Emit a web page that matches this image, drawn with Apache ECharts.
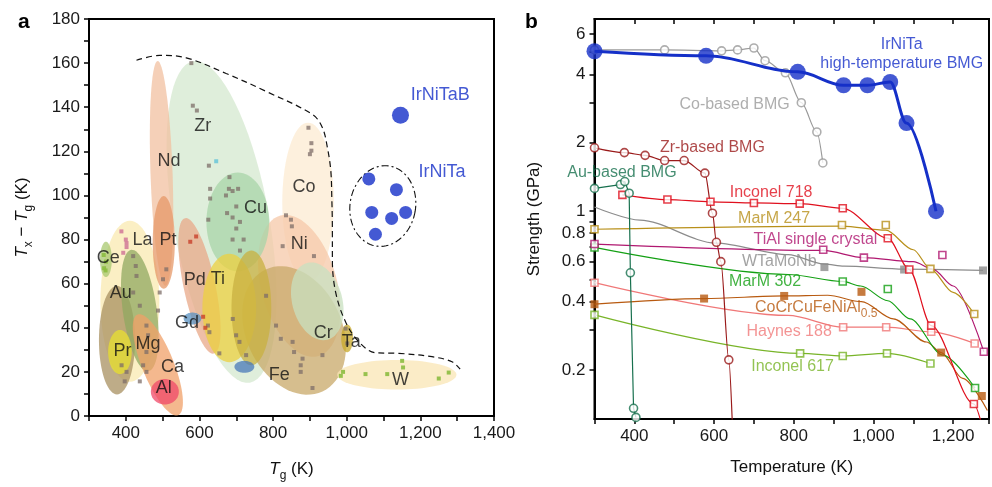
<!DOCTYPE html>
<html>
<head>
<meta charset="utf-8">
<script src="https://cdn.jsdelivr.net/npm/echarts@6/dist/echarts.min.js"></script>
<style>
  html, body { margin: 0; padding: 0; background: #fff; }
  #main { width: 992px; height: 487px; }
</style>
</head>
<body>
<div id="main"></div>
<script>
// ---------- panel a : Tx - Tg versus Tg ----------
// alloy families drawn as ellipses: [family, Tg centre, dT centre, half width (K), half height (K), tilt deg]
const groups = [
  ['Zr', 660, 88, 130, 74, -10],
  ['Nd', 497, 110, 30, 51, -2],
  ['Co', 895, 97, 70, 36, 0],
  ['La', 411, 52, 80, 36.5, 0],
  ['Ni', 871, 59, 103, 33, -15],
  ['Cu', 704, 88, 85, 22.4, 0],
  ['Pt', 503, 78.7, 30, 21, 0],
  ['Pd', 600, 59, 43, 31.4, -12],
  ['Fe', 857, 38.8, 130, 30.5, -25],
  ['Cr', 920, 52, 68, 18, -15],
  ['Ti', 681, 49, 73, 24.6, 0],
  ['Ti2', 741, 49, 54, 26, 0],
  ['Au', 376, 34.4, 49, 24.6, 0],
  ['Mg', 438, 47.8, 46, 27.8, -8],
  ['Ca', 487, 23.2, 43, 24.6, -22],
  ['Pr', 384, 29, 32, 10, 0],
  ['Al', 506, 11, 38, 5.8, 0],
  ['Ce', 346, 71, 16, 8, 0],
  ['Gd', 581, 44.2, 24, 2.7, 0],
  ['Ta', 1001, 35.2, 16, 6.3, 0],
  ['W', 1136, 18.7, 162, 6.7, 0],
  ['CuB', 722, 22.3, 27, 2.7, 0]
];
const groupColors = {
  Zr: '#d4e8cf', Nd: '#f2c0a0', Co: '#fcebd2', La: '#f9eab0', Ni: '#f5c8a8',
  Cu: '#a8d4a8', Pt: '#e59868', Pd: '#e8a888', Fe: '#c8a868', Cr: '#c8e0c0',
  Ti: '#ecd040', Ti2: '#c8b040', Au: '#a89060', Mg: '#90a860', Ca: '#f0a068',
  Pr: '#e8e030', Al: '#f04868', Ce: '#a8c870', Gd: '#5890c0', Ta: '#c8a828',
  W: '#f9e6b4', CuB: '#4878b8'
};

// individual glasses (small squares)
const glassGrey = [
  [578,160],[582,140.7],[593,138.5],[625.6,113.5],[629,103],[629,98.6],[624,89],
  [681.5,108.3],[672,100],[680,103],[690,102],[705,103],[700,95],[675,92],[690,90],[710,88],[700,85],[720,80],[690,80],[710,75],
  [896,130.7],[904,123.7],[904,120.3],[900,118.7],
  [835,91],[848.5,89],[851,86],[826,77],[911,72.5],
  [420,72.5],[427,68],[429,63.5],[420,56],[438,50],[456,41],[460.5,36.6],[456,29],[447,23],[456,20],[438,15.7],
  [388.5,23],[402,20],[397,15.7],
  [492,56],[501,62],[510,66.5],[487.5,47.8],
  [623,41],[627,38],[654,28.4],
  [690.5,44],[699.6,36.6],[726.7,27.6],[708.6,33.6],
  [781,54.5],[808,41],[821,35],[853,33.6],[857,29],[880,26],[875,23],[875,20],[907,12.7],[934,27.6],
  [997,39.6],[1001.5,32.9]
];
const glassRed = [[575,79],[591,81.4],[610,45],[616,40]];
const glassPink = [[388,83.7],[400,80],[402,76.6],[393,74],[402,78.4]];
const glassGreen = [[340,73],[346,70],[341,67],[345,66],[1150.5,25],[1153,22],[1051,19],[1110,19],[1250,17],[1277,19.7],[984,18.2],[990,20]];
const glassCyan = [[645.5,115.5]];

// IrNiTa and IrNiTaB
const irnitaTg = [1060, 1135, 1068, 1122, 1160, 1078];
const irnitaDT = [107.5, 102.6, 92.3, 89.6, 92.3, 82.4];
const irnitaBTg = [1146];
const irnitaBDT = [136.4];
const irnitaRing = [[1098, 95.2, 89, 18.4, 10]];

// dashed boundary of conventional BMGs
const boundTg = [429, 492, 564, 672.6, 780.8, 907, 934, 947.5, 956.7, 959.4, 961, 961, 970, 997, 1033, 1078, 1141.5, 1231.5, 1285.7, 1308];
const boundDT = [161.3, 163.5, 162.4, 155.3, 147.2, 136.7, 130.7, 121.7, 111.3, 99.3, 84.4, 71, 56, 42.6, 33.6, 28.7, 28.4, 26.9, 24.6, 21.2];

const elemNames = ['Zr','Nd','Co','Cu','Ni','La','Pt','Ce','Au','Pd','Ti','Gd','Cr','Ta','Mg','Pr','Ca','Al','Fe','W'];
const elemTg = [609, 517, 884, 752, 871, 445, 514.5, 352, 386, 587, 650, 566, 936, 1012, 460.5, 391, 526.5, 503, 816.8, 1146];
const elemDT = [131.5, 115.8, 103.8, 94.5, 78, 80, 80, 71.4, 55.6, 61.7, 62.3, 42.1, 37.8, 33.6, 32.6, 29.4, 22.4, 12.7, 18.4, 16.4];

// ---------- panel b : strength versus temperature ----------
const irT = [300, 580, 810, 925, 985, 1042, 1083, 1157];
const irS = [5.05, 4.82, 4.10, 3.58, 3.58, 3.70, 2.44, 1.0];
const coT = [300, 476, 619, 659, 700, 728, 779, 819, 858, 873];
const coS = [5.12, 5.12, 5.07, 5.12, 5.22, 4.59, 4.06, 3.0, 2.23, 1.63];
const zrT = [300, 375, 427, 476, 525, 577, 596, 606, 617, 637];
const zrS = [1.9, 1.81, 1.76, 1.67, 1.67, 1.47, 0.98, 0.73, 0.6, 0.222];
const zrFitT = [300, 375, 427, 476, 525, 577, 596, 606, 617, 637, 646];
const zrFitS = [1.9, 1.81, 1.76, 1.67, 1.67, 1.47, 0.98, 0.73, 0.6, 0.222, 0.115];
const auT = [300, 365, 376, 387, 390, 398, 404];
const auS = [1.26, 1.31, 1.35, 1.2, 0.536, 0.136, 0.124];
const in718T = [370, 483, 591, 700, 815, 923, 1036, 1090, 1145, 1252];
const in718S = [1.18, 1.125, 1.10, 1.087, 1.08, 1.03, 0.761, 0.554, 0.314, 0.142];
const in718FitT = [370, 483, 591, 700, 815, 923, 1036, 1090, 1145, 1252, 1272];
const in718FitS = [1.18, 1.125, 1.10, 1.087, 1.08, 1.03, 0.761, 0.554, 0.314, 0.142, 0.115];
const m247T = [300, 921, 1031, 1143, 1253];
const m247S = [0.833, 0.869, 0.869, 0.558, 0.353];
const m247FitT = [300, 921, 1031, 1100, 1143, 1200, 1253];
const m247FitS = [0.833, 0.86, 0.825, 0.677, 0.558, 0.44, 0.353];
const tialT = [300, 874, 976, 1173, 1277];
const tialS = [0.717, 0.677, 0.625, 0.642, 0.241];
const tialFitT = [300, 874, 976, 1100, 1150, 1200, 1277];
const tialFitS = [0.717, 0.672, 0.625, 0.60, 0.555, 0.469, 0.241];
const wtT = [877, 1077, 1275];
const wtS = [0.568, 0.554, 0.549];
const wtFitT = [300, 414, 604, 786, 877, 926, 1077, 1275];
const wtFitS = [1.044, 0.914, 0.724, 0.644, 0.585, 0.573, 0.556, 0.549];
const m302T = [300, 923, 1036, 1255];
const m302S = [0.693, 0.491, 0.455, 0.167];
const m302FitT = [300, 786, 923, 968, 1036, 1092, 1174, 1255];
const m302FitS = [0.693, 0.527, 0.491, 0.469, 0.404, 0.336, 0.233, 0.167];
const heaT = [300, 575, 776, 970, 1170, 1272];
const heaS = [0.39, 0.413, 0.424, 0.442, 0.239, 0.154];
const heaFitT = [300, 575, 776, 885, 970, 1050, 1133, 1170, 1224, 1286];
const heaFitS = [0.39, 0.413, 0.424, 0.427, 0.40, 0.336, 0.266, 0.239, 0.184, 0.133];
const hayT = [300, 924, 1032, 1145, 1254];
const hayS = [0.485, 0.309, 0.309, 0.295, 0.262];
const hayFitT = [300, 786, 924, 1032, 1145, 1254];
const hayFitS = [0.485, 0.348, 0.309, 0.309, 0.295, 0.262];
const in617T = [300, 816, 923, 1034, 1143];
const in617S = [0.35, 0.237, 0.231, 0.237, 0.214];

const bLabelText = ['Co-based BMG', 'Zr-based BMG', 'Au-based BMG', 'Inconel 718', 'MarM 247', 'TiAl single crystal', 'WTaMoNb', 'MarM 302', 'Haynes 188', 'Inconel 617'];
const bLabelT = [651.5, 595.8, 368.8, 743.2, 750.7, 854.5, 763.6, 728.2, 788.4, 797];
const bLabelS = [2.94, 1.90, 1.48, 1.213, 0.93, 0.754, 0.602, 0.488, 0.297, 0.207];

const strengthLabels = [0.2, 0.4, 0.6, 0.8, 1, 2, 4, 6];
const strengthTicks = [0.2, 0.3, 0.4, 0.5, 0.6, 0.7, 0.8, 0.9, 1, 2, 3, 4, 5, 6];

// ---------- styling ----------
const FONT = '"Liberation Sans", Arial, Helvetica, sans-serif';
const BLUE = '#1530c8';
const colors = {
  co: '#9a9a9a', zr: '#9a1a1a', au: '#17704e', in718: '#e0101e', m247: '#b8901a',
  tial: '#b01870', wt: '#8c8c8c', m302: '#14a014', hea: '#b85a10', hay: '#f07878', in617: '#78b428'
};
const bLabelColors = [colors.co, colors.zr, colors.au, colors.in718, colors.m247, colors.tial, colors.wt, colors.m302, colors.hay, colors.in617];

const zip = (a, b) => a.map((v, i) => [v, b[i]]);
const thousands = v => String(v).replace(/\B(?=(\d{3})+(?!\d))/g, ',');

function ellipsePoints(api, n) {
  const c = api.coord([api.value(0), api.value(1)]);
  const s = api.size([api.value(2), api.value(3)]);
  const t = api.value(4) * Math.PI / 180;
  const pts = [];
  for (let i = 0; i < n; i++) {
    const a = i / n * Math.PI * 2;
    const ex = s[0] * Math.cos(a), ey = s[1] * Math.sin(a);
    pts.push([c[0] + ex * Math.cos(t) - ey * Math.sin(t), c[1] + ex * Math.sin(t) + ey * Math.cos(t)]);
  }
  return pts;
}

function smallSquares(data, color, opacity) {
  return {
    type: 'scatter', xAxisIndex: 0, yAxisIndex: 0, data: data,
    symbol: 'rect', symbolSize: 4, z: 3, silent: true,
    itemStyle: { color: color, opacity: opacity }
  };
}

// panel b curve + markers
function fitLine(T, S, color, width, smooth) {
  return {
    type: 'line', xAxisIndex: 1, yAxisIndex: 1, data: zip(T, S),
    showSymbol: false, symbol: 'none', smooth: smooth, smoothMonotone: 'x', z: 4,
    lineStyle: { color: color, width: width }
  };
}
function markers(T, S, color, symbol, filled, size) {
  return {
    type: 'scatter', xAxisIndex: 1, yAxisIndex: 1, data: zip(T, S),
    symbol: symbol, symbolSize: size, z: 6,
    itemStyle: filled ? { color: color } : { color: '#fff', borderColor: color, borderWidth: 1.6 }
  };
}

const rich = {
  i: { fontStyle: 'italic', fontSize: 17, fontFamily: FONT, color: '#111', lineHeight: 26 },
  n: { fontSize: 17, fontFamily: FONT, color: '#111', lineHeight: 26 },
  s: { fontSize: 12, fontFamily: FONT, color: '#111', lineHeight: 12, verticalAlign: 'bottom' }
};

const chart = echarts.init(document.getElementById('main'));

const option = {
  animation: false,
  backgroundColor: '#fff',
  textStyle: { fontFamily: FONT },
  grid: [
    { left: 89, top: 19, width: 405, height: 402.7, show: true, borderColor: '#000', borderWidth: 2 },
    { left: 594.5, top: 19, width: 399.5, height: 400, show: true, borderColor: '#000', borderWidth: 2 }
  ],
  xAxis: [
    {
      type: 'value', gridIndex: 0, min: 300, max: 1400, interval: 100,
      axisLine: { onZero: false, lineStyle: { color: '#000', width: 2 } },
      axisTick: { length: 5, lineStyle: { color: '#000', width: 1.5 } },
      axisLabel: { fontSize: 17, color: '#1a1a1a', margin: 9,
        formatter: v => (v % 200 === 0 && v >= 400) ? thousands(v) : '' },
      splitLine: { show: false },
      name: '{i|T}{s|g}{n| (K)}', nameLocation: 'middle', nameGap: 40,
      nameTextStyle: { rich: rich }
    },
    {
      type: 'value', gridIndex: 1, position: 'bottom', min: 300, max: 1290, interval: 100,
      axisLine: { onZero: false, lineStyle: { color: '#000', width: 2 } },
      axisTick: { length: 5, lineStyle: { color: '#000', width: 1.5 } },
      axisLabel: { fontSize: 17, color: '#1a1a1a', margin: 9,
        formatter: v => (v % 200 === 0 && v >= 400) ? thousands(v) : '' },
      splitLine: { show: false },
      name: 'Temperature (K)', nameLocation: 'middle', nameGap: 40,
      nameTextStyle: { fontSize: 17, color: '#111' }
    },
    {
      type: 'value', gridIndex: 1, position: 'top', min: 300, max: 1290, interval: 100,
      axisLine: { onZero: false, lineStyle: { color: '#000', width: 2 } },
      axisTick: { inside: true, length: 5, lineStyle: { color: '#000', width: 1.5 } },
      axisLabel: { show: false }, splitLine: { show: false }
    }
  ],
  yAxis: [
    {
      type: 'value', gridIndex: 0, min: 0, max: 180, interval: 10,
      axisLine: { lineStyle: { color: '#000', width: 2 } },
      axisTick: { length: 5, lineStyle: { color: '#000', width: 1.5 } },
      axisLabel: { fontSize: 17, color: '#1a1a1a', margin: 9,
        formatter: v => v % 20 === 0 ? String(v) : '' },
      splitLine: { show: false },
      name: '{i|T}{s|x}{n| − }{i|T}{s|g}{n| (K)}', nameLocation: 'middle', nameGap: 54,
      nameTextStyle: { rich: rich }
    },
    {
      type: 'log', logBase: 10, gridIndex: 1, position: 'left', min: 0.122, max: 7, show: false
    },
    {
      // tick and label carrier for the log axis (values in log10 space)
      type: 'value', gridIndex: 1, position: 'left', offset: 0,
      min: Math.log10(0.122), max: Math.log10(7),
      axisLine: { onZero: false, lineStyle: { color: '#000', width: 2 } },
      axisTick: { length: 5, lineStyle: { color: '#000', width: 1.5 },
        customValues: strengthTicks.map(v => Math.log10(v)) },
      axisLabel: { fontSize: 17, color: '#1a1a1a', margin: 9,
        customValues: strengthLabels.map(v => Math.log10(v)),
        formatter: v => { const r = Math.pow(10, v); return r >= 0.95 ? String(Math.round(r)) : r.toFixed(1); } },
      splitLine: { show: false },
      name: 'Strength (GPa)', nameLocation: 'middle', nameGap: 52,
      nameTextStyle: { fontSize: 17, color: '#111' }
    }
  ],
  graphic: [
    { type: 'text', left: 18, top: 12, style: { text: 'a', font: 'bold 21px ' + FONT, fill: '#000' } },
    { type: 'text', left: 525, top: 12, style: { text: 'b', font: 'bold 21px ' + FONT, fill: '#000' } }
  ],
  series: [
    // ---- panel a ----
    {
      type: 'custom', xAxisIndex: 0, yAxisIndex: 0, z: 1, silent: true,
      data: groups.map(g => g.slice(1)),
      renderItem: (params, api) => ({
        type: 'polygon',
        shape: { points: ellipsePoints(api, 72), smooth: 0 },
        style: { fill: groupColors[groups[params.dataIndex][0]], opacity: 0.75, blend: 'multiply' }
      })
    },
    smallSquares(glassGrey, '#7d6e68', 0.75),
    smallSquares(glassRed, '#c8402a', 0.8),
    smallSquares(glassPink, '#d07898', 0.85),
    smallSquares(glassGreen, '#8cbc40', 0.9),
    smallSquares(glassCyan, '#70c8d8', 0.9),
    {
      type: 'line', xAxisIndex: 0, yAxisIndex: 0, data: zip(boundTg, boundDT),
      symbol: 'none', smooth: 0.35, z: 4, silent: true,
      lineStyle: { color: '#111', width: 1.2, type: [6, 4] }
    },
    {
      type: 'custom', xAxisIndex: 0, yAxisIndex: 0, z: 4, silent: true,
      data: irnitaRing,
      renderItem: (params, api) => ({
        type: 'polygon',
        shape: { points: ellipsePoints(api, 90) },
        style: { fill: 'none', stroke: '#111', lineWidth: 1.1, lineDash: [7, 3, 2, 3] }
      })
    },
    {
      type: 'scatter', xAxisIndex: 0, yAxisIndex: 0, data: zip(irnitaTg, irnitaDT),
      symbol: 'circle', symbolSize: 13, z: 6, itemStyle: { color: BLUE }
    },
    {
      type: 'scatter', xAxisIndex: 0, yAxisIndex: 0, data: zip(irnitaBTg, irnitaBDT),
      symbol: 'circle', symbolSize: 17, z: 6, itemStyle: { color: BLUE }
    },
    {
      type: 'scatter', xAxisIndex: 0, yAxisIndex: 0, z: 7, silent: true,
      symbolSize: 1, itemStyle: { color: 'rgba(0,0,0,0)' },
      data: elemNames.map((n, i) => ({ name: n, value: [elemTg[i], elemDT[i]] })),
      label: { show: true, position: 'inside', formatter: '{b}', fontSize: 18, color: '#111', fontFamily: FONT }
    },
    {
      type: 'scatter', xAxisIndex: 0, yAxisIndex: 0, z: 7, silent: true,
      symbolSize: 1, itemStyle: { color: 'rgba(0,0,0,0)' },
      data: [{ name: 'IrNiTaB', value: [1254, 145.6] }, { name: 'IrNiTa', value: [1258.6, 110.5] }],
      label: { show: true, position: 'inside', formatter: '{b}', fontSize: 18, color: BLUE, fontFamily: FONT }
    },

    // ---- panel b ----
    fitLine(wtFitT, wtFitS, colors.wt, 1.2, 0.3),
    markers(wtT, wtS, colors.wt, 'rect', true, 8),
    fitLine(in617T, in617S, colors.in617, 1.2, 0.3),
    markers(in617T, in617S, colors.in617, 'rect', false, 7),
    fitLine(hayFitT, hayFitS, colors.hay, 1.2, 0.3),
    markers(hayT, hayS, colors.hay, 'rect', false, 7),
    fitLine(heaFitT, heaFitS, colors.hea, 1.2, 0.3),
    markers(heaT, heaS, colors.hea, 'rect', true, 8),
    fitLine(m302FitT, m302FitS, colors.m302, 1.2, 0.3),
    markers(m302T, m302S, colors.m302, 'rect', false, 7),
    fitLine(tialFitT, tialFitS, colors.tial, 1.2, 0.3),
    markers(tialT, tialS, colors.tial, 'rect', false, 7),
    fitLine(m247FitT, m247FitS, colors.m247, 1.2, 0.3),
    markers(m247T, m247S, colors.m247, 'rect', false, 7),
    fitLine(in718FitT, in718FitS, colors.in718, 1.2, 0.3),
    markers(in718T, in718S, colors.in718, 'rect', false, 7),
    fitLine(auT, auS, colors.au, 1.2, false),
    markers(auT, auS, colors.au, 'circle', false, 8),
    fitLine(zrFitT, zrFitS, colors.zr, 1.2, 0.3),
    markers(zrT, zrS, colors.zr, 'circle', false, 8),
    fitLine(coT, coS, colors.co, 1.2, 0.3),
    markers(coT, coS, colors.co, 'circle', false, 8),
    Object.assign(fitLine(irT, irS, BLUE, 3, 0.35), { z: 8 }),
    Object.assign(markers(irT, irS, BLUE, 'circle', true, 16), { z: 9 }),
    {
      type: 'scatter', xAxisIndex: 1, yAxisIndex: 1, z: 10, silent: true,
      symbolSize: 1, itemStyle: { color: 'rgba(0,0,0,0)' },
      data: bLabelText.map((t, i) => ({
        name: t, value: [bLabelT[i], bLabelS[i]],
        label: { color: bLabelColors[i] }
      })).concat([
        { name: 'IrNiTa\nhigh-temperature BMG', value: [1071, 4.92], label: { color: BLUE, lineHeight: 19 } }
      ]),
      label: { show: true, position: 'inside', formatter: '{b}', fontSize: 16, fontFamily: FONT }
    },
    {
      type: 'scatter', xAxisIndex: 1, yAxisIndex: 1, z: 10, silent: true,
      symbolSize: 1, itemStyle: { color: 'rgba(0,0,0,0)' },
      data: [{ name: 'CoCrCuFeNiAl', value: [701.6, 0.375] }],
      label: {
        show: true, position: 'right', distance: 0,
        formatter: '{m|CoCrCuFeNiAl}{s|0.5}',
        rich: {
          m: { fontSize: 16, fontFamily: FONT, color: colors.hea, lineHeight: 24 },
          s: { fontSize: 12, fontFamily: FONT, color: colors.hea, lineHeight: 12, verticalAlign: 'bottom' }
        }
      }
    }
  ]
};

chart.setOption(option);
</script>
</body>
</html>
